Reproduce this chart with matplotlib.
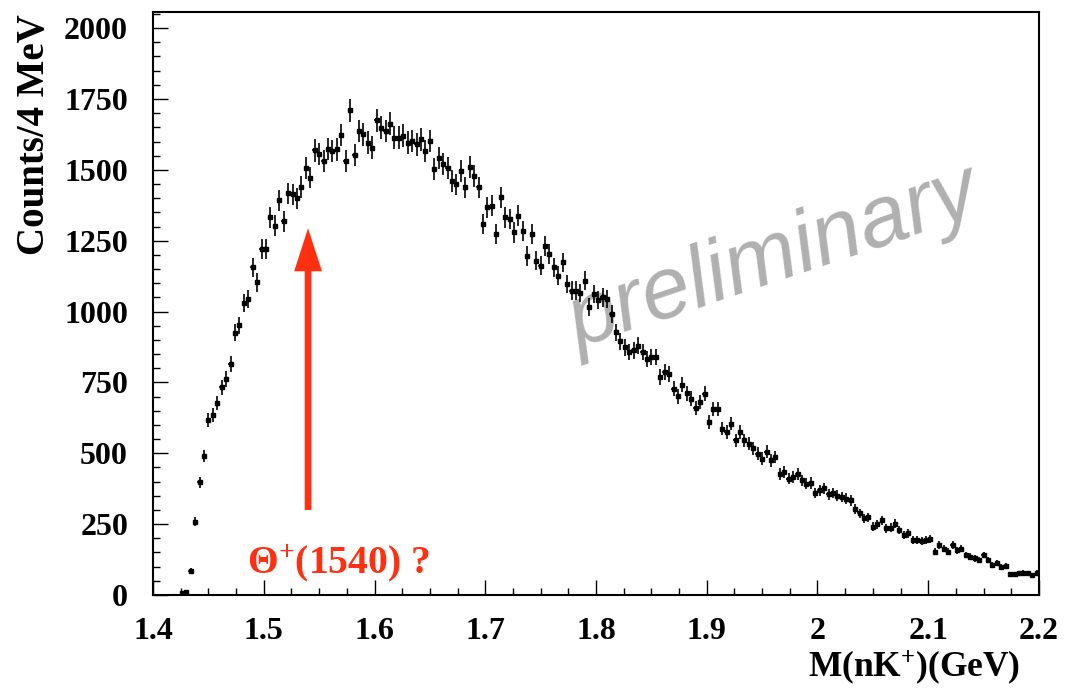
import numpy as np
import matplotlib
matplotlib.use("Agg")
import matplotlib.pyplot as plt
from matplotlib.ticker import MultipleLocator, FuncFormatter

# ---- histogram: M(nK+) spectrum, 4 MeV bins ----------------------------
bin_width = 0.004          # GeV
first_bin_centre = 1.426   # GeV, first non-empty bin

counts = [
    6, 10, 85, 258, 397, 490, 619, 634, 677, 733,
    761, 816, 925, 951, 1029, 1045, 1156, 1103, 1221, 1221,
    1332, 1303, 1393, 1318, 1417, 1414, 1400, 1440, 1506, 1473,
    1569, 1555, 1532, 1573, 1567, 1572, 1623, 1532, 1710, 1553,
    1637, 1625, 1596, 1578, 1675, 1649, 1637, 1663, 1614, 1614,
    1620, 1596, 1602, 1590, 1608, 1567, 1602, 1502, 1543, 1520,
    1508, 1461, 1449, 1496, 1438, 1511, 1479, 1438, 1309, 1368,
    1373, 1274, 1403, 1332, 1326, 1279, 1338, 1285, 1197, 1275,
    1180, 1162, 1232, 1203, 1156, 1127, 1174, 1097, 1074, 1074,
    1065, 1109, 1015, 1062, 1040, 1050, 1045, 992, 927, 895,
    874, 857, 863, 880, 857, 833, 839, 839, 769, 786,
    781, 728, 701, 742, 712, 693, 660, 681, 710, 610,
    657, 657, 587, 575, 605, 546, 575, 546, 534, 517,
    499, 481, 505, 475, 487, 428, 434, 411, 417, 428,
    405, 393, 395, 360, 370, 376, 355, 360, 350, 345,
    340, 334, 305, 288, 270, 274, 241, 250, 264, 235,
    238, 252, 229, 211, 217, 194, 194, 191, 194, 196,
    153, 176, 164, 153, 176, 158, 164, 141, 135, 129,
    123, 141, 123, 106, 112, 100, 103, 74, 74, 76,
    79, 76, 70, 79,
]

x_ticks = [1.4, 1.5, 1.6, 1.7, 1.8, 1.9, 2.0, 2.1, 2.2]
y_ticks = [0, 250, 500, 750, 1000, 1250, 1500, 1750, 2000]

theta_mass = 1.54          # GeV, position of the arrow
arrow_from = 300           # counts
arrow_to = 1294            # counts

counts = np.asarray(counts, dtype=float)
centres = first_bin_centre + bin_width * np.arange(len(counts))
errors = np.sqrt(counts)

# ---- style -------------------------------------------------------------
plt.rcParams["font.family"] = ["Liberation Serif", "DejaVu Serif"]
plt.rcParams["font.weight"] = "bold"
plt.rcParams["mathtext.fontset"] = "custom"
plt.rcParams["mathtext.rm"] = "Liberation Serif:bold"
plt.rcParams["mathtext.bf"] = "Liberation Serif:bold"
plt.rcParams["mathtext.it"] = "Liberation Serif:italic:bold"

fig = plt.figure(figsize=(10.8, 6.88), dpi=100)
ax = fig.add_axes([153 / 1080, 1 - 595 / 688, 886 / 1080, 583.3 / 688])

ax.errorbar(centres, counts, xerr=bin_width / 2, yerr=errors,
            fmt="s", ms=2.6, color="black", ecolor="black",
            elinewidth=1.2, capsize=0, zorder=3)

ax.set_xlim(1.4, 2.2)
ax.set_ylim(0, 2058)

ax.set_xticks(x_ticks)
ax.set_yticks(y_ticks)
ax.xaxis.set_minor_locator(MultipleLocator(0.025))
ax.yaxis.set_minor_locator(MultipleLocator(50))
ax.xaxis.set_major_formatter(FuncFormatter(lambda v, _: f"{v:g}"))

ax.tick_params(which="both", direction="in", top=False, right=False,
               width=1.0, color="black")
ax.tick_params(which="major", length=10.5)
ax.tick_params(which="minor", length=5)
ax.tick_params(axis="x", which="major", pad=16, labelsize=23)
ax.tick_params(axis="y", which="major", pad=18, labelsize=23)
for lab in ax.get_xticklabels() + ax.get_yticklabels():
    lab.set_fontweight("bold")

for sp in ax.spines.values():
    sp.set_linewidth(1.5)
    sp.set_color("black")

ax.set_ylabel("Counts/4 MeV", loc="top", fontsize=28, fontweight="bold")
ax.yaxis.set_label_coords(-0.113, 0.995)
ax.set_xlabel("M(nK$^{+}$)(GeV)", loc="right", fontsize=25.5, fontweight="bold")
ax.xaxis.set_label_coords(0.9786, -0.091)

# watermark
ax.text(1.9601, 1184, "preliminary", family="Liberation Sans",
        style="italic", fontweight="normal", fontsize=63, color="#b0b0b0",
        rotation=18.5, ha="center", va="center", zorder=1)

# candidate position marker
ax.annotate("", xy=(theta_mass, arrow_to), xytext=(theta_mass, arrow_from),
            arrowprops=dict(arrowstyle="simple,head_length=3.1,head_width=2.0,tail_width=0.48",
                            mutation_scale=10, color="#ff3010", lw=0,
                            shrinkA=0, shrinkB=0), zorder=4)
ax.text(1.4849, 77, "\u0398$^{+}$(1540) ?", color="#ff3010", fontsize=28.5,
        fontweight="bold", ha="left", va="baseline", zorder=4)

fig.savefig("out.png", dpi=100, facecolor="white")
